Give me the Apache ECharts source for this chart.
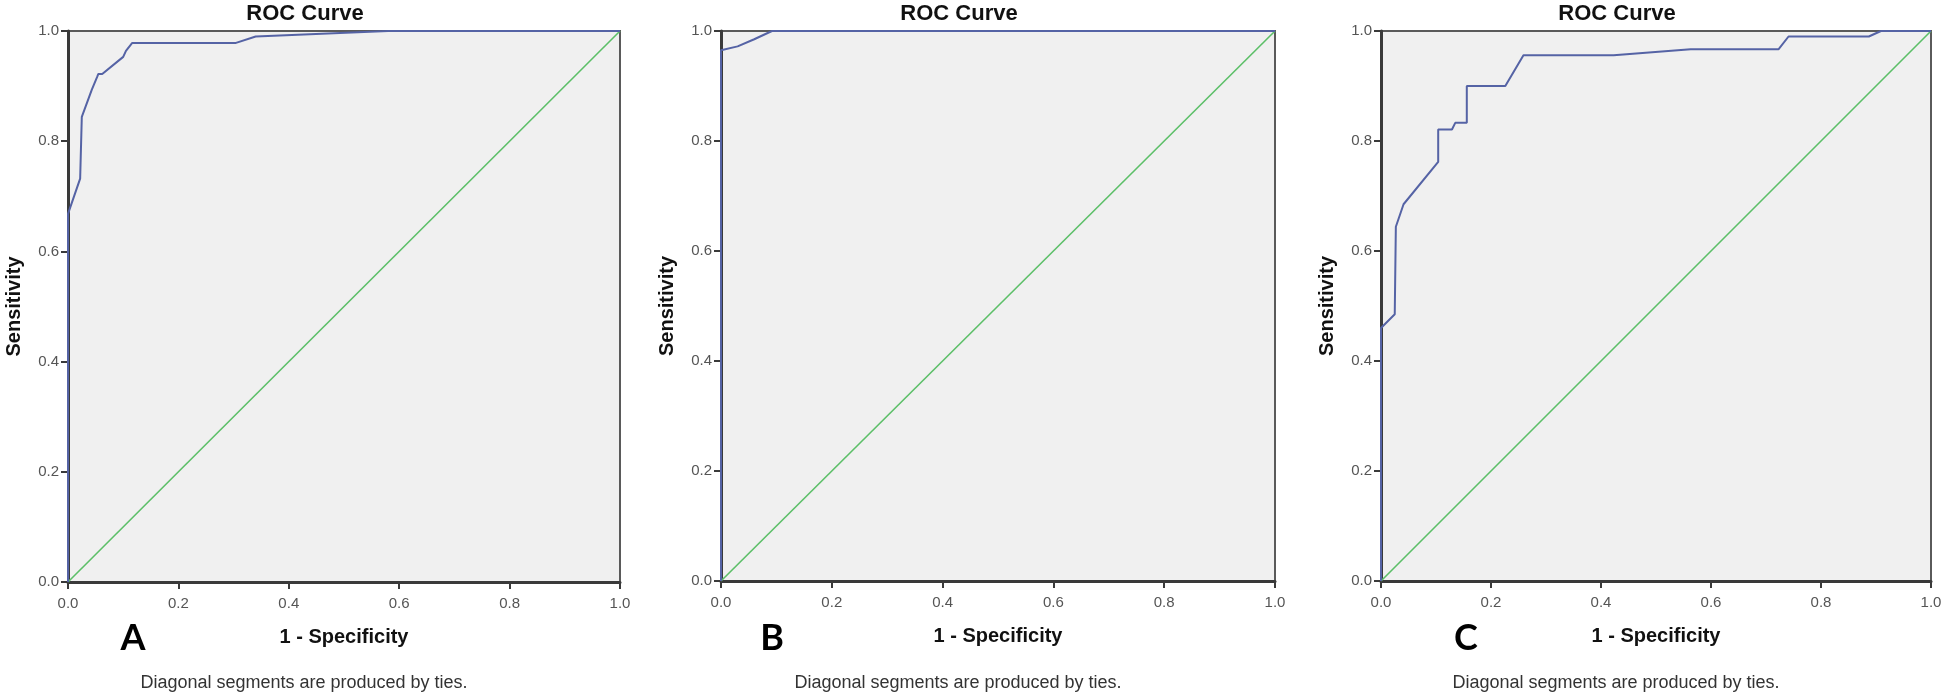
<!DOCTYPE html>
<html>
<head>
<meta charset="utf-8">
<script src="https://cdn.jsdelivr.net/npm/echarts@6/dist/echarts.min.js"></script>
<style>
html,body{margin:0;padding:0;background:#fff;}
#chart{width:1946px;height:696px;}
</style>
</head>
<body>
<div id="chart"></div>
<script>
// ---- data ----
const panelLabels = ['A', 'B', 'C'];
const chartTitle = 'ROC Curve';
const xAxisName = '1 - Specificity';
const yAxisName = 'Sensitivity';
const footnote = 'Diagonal segments are produced by ties.';
const tickValues = [0, 0.2, 0.4, 0.6, 0.8, 1.0];

const rocA_fpr = [0, 0, 0.022, 0.025, 0.043, 0.053, 0.055, 0.062, 0.100, 0.105, 0.116, 0.303, 0.340, 0.580, 1.0];
const rocA_tpr = [0, 0.668, 0.732, 0.844, 0.893, 0.917, 0.922, 0.922, 0.953, 0.964, 0.978, 0.978, 0.990, 1.0, 1.0];

const rocB_fpr = [0, 0, 0.03, 0.06, 0.092, 1.0];
const rocB_tpr = [0, 0.965, 0.972, 0.985, 1.0, 1.0];

const rocC_fpr = [0, 0, 0.025, 0.027, 0.041, 0.104, 0.104, 0.129, 0.135, 0.156, 0.156, 0.226, 0.259, 0.423, 0.563, 0.723, 0.741, 0.887, 0.909, 1.0];
const rocC_tpr = [0, 0.46, 0.485, 0.644, 0.685, 0.762, 0.821, 0.821, 0.833, 0.833, 0.900, 0.900, 0.956, 0.956, 0.967, 0.967, 0.990, 0.990, 1.0, 1.0];

const refLine = [0, 1];

// ---- layout ----
const grids = [
  {left: 68, top: 31, width: 552, height: 551},
  {left: 721, top: 31, width: 554, height: 550},
  {left: 1381, top: 31, width: 550, height: 550}
];
const curves = [[rocA_fpr, rocA_tpr], [rocB_fpr, rocB_tpr], [rocC_fpr, rocC_tpr]];

const chart = echarts.init(document.getElementById('chart'), null, {renderer: 'canvas'});

const xAxes = [], yAxes = [], series = [], graphics = [];
grids.forEach((g, i) => {
  const axisCommon = {
    type: 'value', min: 0, max: 1, interval: 0.2, gridIndex: i,
    axisLine: {show: true, lineStyle: {color: '#3a3a3a', width: 3}},
    axisTick: {show: true, inside: false, length: 7, lineStyle: {color: '#3a3a3a', width: 2}},
    splitLine: {show: false},
    axisLabel: {color: '#555', fontSize: 15, fontFamily: 'Liberation Sans, Arial, sans-serif',
      formatter: v => v.toFixed(1)},
    nameTextStyle: {color: '#111', fontSize: 20, fontWeight: 'bold', fontFamily: 'Liberation Sans, Arial, sans-serif'},
    nameLocation: 'middle'
  };
  xAxes.push(Object.assign({}, axisCommon, {name: xAxisName, nameGap: 45,
    axisLabel: Object.assign({}, axisCommon.axisLabel, {margin: 14})}));
  yAxes.push(Object.assign({}, axisCommon, {name: yAxisName, nameGap: 44,
    axisLabel: Object.assign({}, axisCommon.axisLabel, {margin: 9})}));
  series.push({
    type: 'line', xAxisIndex: i, yAxisIndex: i, showSymbol: false, symbol: 'none',
    data: refLine.map(v => [v, v]),
    lineStyle: {color: '#5cbf68', width: 1.6}, z: 2, animation: false
  });
  series.push({
    type: 'line', xAxisIndex: i, yAxisIndex: i, showSymbol: false, symbol: 'none',
    data: curves[i][0].map((x, k) => [x, curves[i][1][k]]),
    lineStyle: {color: '#5563a5', width: 2}, z: 3, animation: false
  });
  const cx = g.left + g.width / 2;
  graphics.push({type: 'text', x: cx - 39, y: 14, style: {text: chartTitle, textAlign: 'center', textVerticalAlign: 'middle',
    font: 'bold 22px "Liberation Sans", Arial, sans-serif', fill: '#111'}});
  graphics.push({type: 'text', x: cx - 40, y: 683, style: {text: footnote, textAlign: 'center', textVerticalAlign: 'middle',
    font: '18px "Liberation Sans", Arial, sans-serif', fill: '#333'}});
  graphics.push({type: 'text', x: [133, 772, 1466][i], y: 638, style: {text: panelLabels[i], textAlign: 'center', textVerticalAlign: 'middle',
    font: 'bold 36px Lato, "Liberation Sans", sans-serif', fill: '#000'}});
});

chart.setOption({
  animation: false,
  backgroundColor: '#ffffff',
  grid: grids.map(g => Object.assign({show: true, backgroundColor: '#f0f0f0', borderColor: '#5a5a5a', borderWidth: 2}, g)),
  xAxis: xAxes,
  yAxis: yAxes,
  series: series,
  graphic: graphics
});
</script>
</body>
</html>
